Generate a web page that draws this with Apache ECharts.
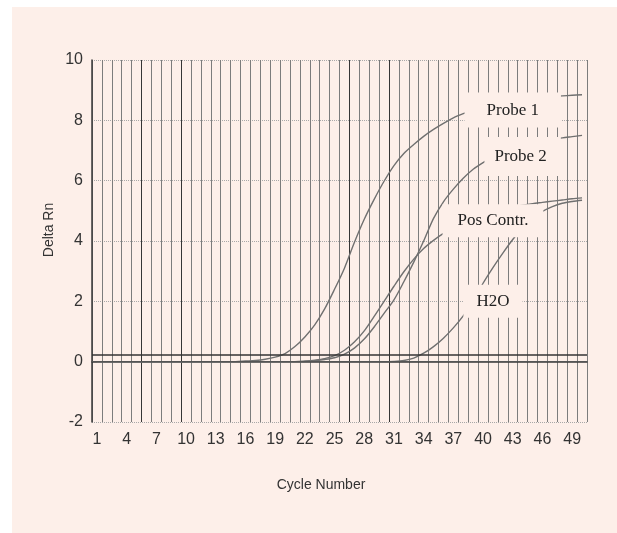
<html>
<head>
<meta charset="utf-8">
<title>Delta Rn</title>
<script src="https://cdn.jsdelivr.net/npm/echarts@6/dist/echarts.min.js"></script>
<style>
body{margin:0;background:#fff;}
#chart{position:absolute;left:12px;top:7px;width:605px;height:526px;}
</style>
</head>
<body>
<div id="chart"></div>
<script>
// cycles 1..50
var cycles = [];
for (var i = 1; i <= 50; i++) cycles.push(String(i));

var probe1 = [0,0,0,0,0, 0,0,0,0,0, 0,0,0,0,0,
  0.02,0.04,0.08,0.15,0.27, 0.5,0.82,1.22,1.75,2.4,
  3.1,3.95,4.72,5.38,5.98, 6.5,6.9,7.2,7.47,7.7,
  7.9,8.08,8.22,8.34,8.44, 8.52,8.58,8.64,8.69,8.73,
  8.76,8.79,8.81,8.83,8.85];
var probe2 = [0,0,0,0,0, 0,0,0,0,0, 0,0,0,0,0, 0,0,0,0,0, 0,0,
  0.03,0.07,0.13, 0.25,0.45,0.75,1.15,1.6,
  2.05,2.65,3.3,4.0,4.75, 5.3,5.72,6.08,6.38,6.6,
  6.78,6.93,7.05,7.15,7.24, 7.31,7.37,7.42,7.46,7.5];
var posContr = [0,0,0,0,0, 0,0,0,0,0, 0,0,0,0,0, 0,0,0,0,0, 0,
  0.02,0.05,0.1,0.2, 0.38,0.65,1.02,1.5,2.0,
  2.5,2.98,3.4,3.75,4.02, 4.25,4.45,4.62,4.76,4.88,
  4.98,5.06,5.13,5.19,5.24, 5.28,5.32,5.36,5.4,5.43];
var h2o = [0,0,0,0,0, 0,0,0,0,0, 0,0,0,0,0, 0,0,0,0,0, 0,0,0,0,0, 0,0,0,0,0,
  0.01,0.04,0.12,0.28,0.5, 0.78,1.12,1.52,2.0,2.6,
  3.12,3.6,4.05,4.45,4.75, 4.98,5.14,5.25,5.31,5.35];

var threshold = 0.23;
// where the curve names sit: [cycle, Delta Rn]
var nameSpots = {
  'Probe 1': [43.4, 8.34],
  'Probe 2': [43.9, 6.8],
  'Pos Contr.': [41.3, 4.67],
  'H2O': [41.2, 2.0]
};

var bg = '#fdefe9';
var curveColor = '#707070';

// some vertical grid lines look heavier in the scan
var vColors = [];
for (var k = 0; k <= 50; k++) {
  vColors.push((k == 5 || k == 9 || k == 26 || k == 30) ? '#353535' : '#7c7c7c');
}

function curve(name, data, pad) {
  var spot = nameSpots[name];
  return {
    name: name,
    type: 'line',
    data: data,
    smooth: 0.3,
    showSymbol: false,
    lineStyle: {color: curveColor, width: 1.4},
    markPoint: {
      symbol: 'rect',
      symbolSize: 0,
      silent: true,
      data: [{coord: [spot[0] - 1, spot[1]], value: name}],
      label: {
        show: true,
        position: 'inside',
        formatter: name,
        fontFamily: 'Liberation Serif',
        fontSize: 17,
        color: '#222',
        backgroundColor: bg,
        padding: pad
      }
    }
  };
}

var myChart = echarts.init(document.getElementById('chart'));
var option = {
  backgroundColor: bg,
  animation: false,
  grid: {left: 80, top: 53, width: 495, height: 362, containLabel: false},
  xAxis: {
    type: 'category',
    data: cycles,
    boundaryGap: true,
    axisLine: {show: true, lineStyle: {color: '#3a3a3a', width: 1.5}},
    axisTick: {show: false},
    axisLabel: {interval: 2, margin: 10, fontSize: 16, color: '#333', fontFamily: 'Liberation Sans'},
    splitLine: {show: true, interval: 0, lineStyle: {color: vColors, width: 1}}
  },
  yAxis: {
    type: 'value',
    min: -2,
    max: 10,
    interval: 2,
    axisLine: {show: true, lineStyle: {color: '#3a3a3a', width: 1.5}},
    axisTick: {show: false},
    axisLabel: {margin: 9, fontSize: 16, color: '#333', fontFamily: 'Liberation Sans'},
    splitLine: {show: true, lineStyle: {color: '#a8a8a8', type: 'dotted', width: 1}}
  },
  graphic: [
    {type: 'text', x: 37, y: 223, rotation: Math.PI / 2,
     style: {text: 'Delta Rn', fontSize: 14, fontFamily: 'Liberation Sans', fill: '#333', align: 'center', verticalAlign: 'middle'}},
    {type: 'text', x: 309, y: 478,
     style: {text: 'Cycle Number', fontSize: 14, fontFamily: 'Liberation Sans', fill: '#333', align: 'center', verticalAlign: 'middle'}}
  ],
  series: [
    {
      name: 'lines',
      type: 'line',
      data: [],
      markLine: {
        silent: true,
        symbol: 'none',
        label: {show: false},
        data: [
          {yAxis: 0, lineStyle: {color: '#555', type: 'solid', width: 1.2}},
          {yAxis: threshold, lineStyle: {color: '#333', type: 'solid', width: 1.6}}
        ]
      }
    },
    curve('Probe 1', probe1, [9, 22, 9, 22]),
    curve('Probe 2', probe2, [11, 14, 11, 10]),
    curve('Pos Contr.', posContr, [8, 15, 8, 15]),
    curve('H2O', h2o, [8, 13, 8, 13])
  ]
};
myChart.setOption(option);
</script>
</body>
</html>
